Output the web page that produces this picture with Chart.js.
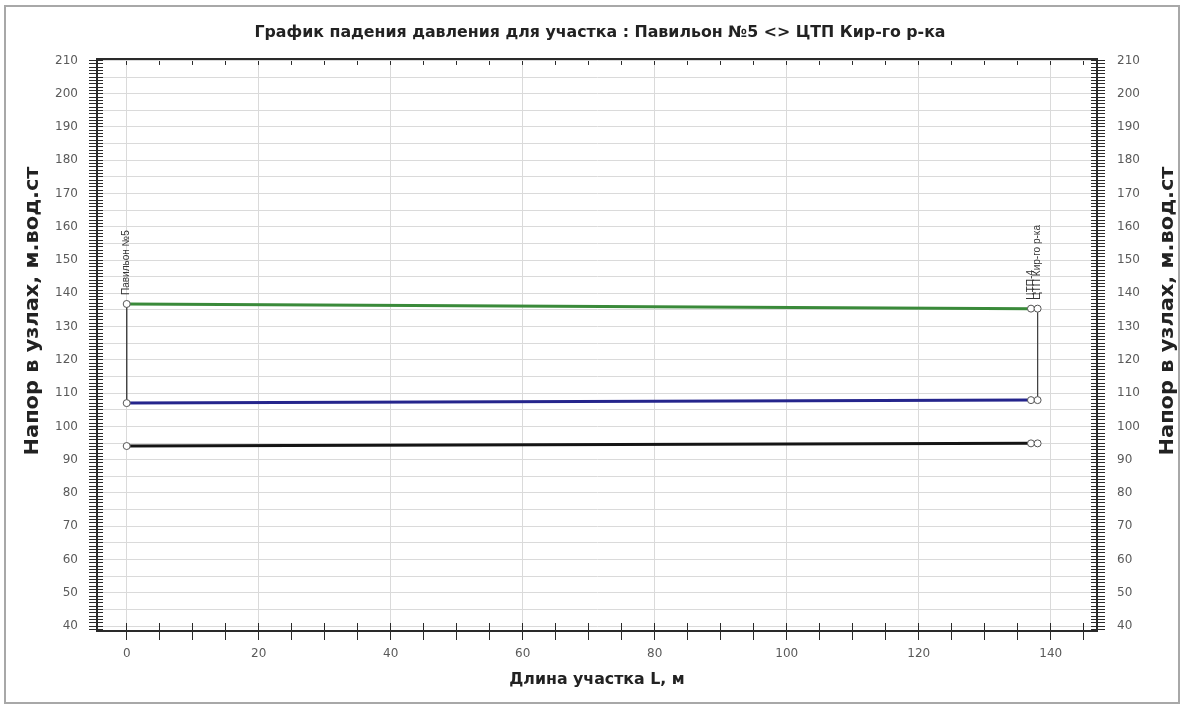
<!DOCTYPE html>
<html lang="ru">
<head>
<meta charset="utf-8">
<title>График падения давления</title>
<script src="https://cdn.jsdelivr.net/npm/chart.js@4.4.1/dist/chart.umd.min.js"></script>
<style>
  html, body { margin: 0; padding: 0; background: #fff; }
  #wrap { position: relative; width: 1184px; height: 709px; overflow: hidden; }
  #frame { position: absolute; left: 4px; top: 5px; width: 1172px; height: 695px;
           border: 2px solid #a8a8a8; pointer-events: none; }
  canvas { position: absolute; left: 0; top: 0; }
  .ytitle { position: absolute; top: 311px; white-space: nowrap;
            font: bold 19px "DejaVu Sans", Verdana, sans-serif; color: #222;
            transform: translate(-50%, -50%) rotate(-90deg) scaleX(1.1); }
</style>
</head>
<body>
<div id="wrap">
  <canvas id="chart" width="1184" height="709"></canvas>
  <div id="frame"></div>
  <div class="ytitle" style="left:31px">Напор в узлах, м.вод.ст</div>
  <div class="ytitle" style="left:1166px">Напор в узлах, м.вод.ст</div>
</div>
<script>
// Узлы участка: расстояние от начала, м
const nodeX = [0, 137, 138];
const nodeNames = ['Павильон №5', 'ЦТП-4', 'ЦТП Кир-го р-ка'];

// Напоры в узлах, м.вод.ст
const supplyHead = [136.8, 135.4, 135.4];   // подающий трубопровод
const returnHead = [107.0, 107.9, 107.9];   // обратный трубопровод
const groundHead = [94.1, 94.9, 94.9];      // отметка земли

// Подписи осей
const xTickLabels = [0, 20, 40, 60, 80, 100, 120, 140];
const yTickLabels = [40, 50, 60, 70, 80, 90, 100, 110, 120, 130, 140, 150, 160, 170, 180, 190, 200, 210];

const X_MIN = -4.5, X_MAX = 147;
const Y_MIN = 38.5, Y_MAX = 210.45;

const xMinorTicks = [];
for (let v = 0; v <= 145; v += 5) xMinorTicks.push(v);
const yMinorTicks = [];
for (let v = 39; v <= 210; v += 1) yMinorTicks.push(v);

const FONT = '"DejaVu Sans", Verdana, sans-serif';
const LABEL_FONT = '"Liberation Sans", Arial, sans-serif';
const AXIS = '#2a2a2a';
const GRID = '#dadada';
const TICK_TEXT = '#5a5a5a';

const pts = (xs, ys) => xs.map((x, i) => ({ x, y: ys[i] }));
const setX = s => { s.ticks = xMinorTicks.map(v => ({ value: v })); };
const setY = s => { s.ticks = yMinorTicks.map(v => ({ value: v })); };

const nodeStyle = {
  pointRadius: 3.5,
  pointHoverRadius: 3.5,
  pointBorderWidth: 1,
  pointBorderColor: '#555',
  pointBackgroundColor: '#fff',
  borderWidth: 3,
  tension: 0,
  fill: false
};

// Засечки внутри поля графика у кромки оси
const innerTicks = (axis, min, max, where, len, build) => ({
  type: 'linear', axis, min, max, position: where,
  afterBuildTicks: build,
  ticks: { display: false },
  grid: { drawOnChartArea: false, tickColor: AXIS, tickLength: len },
  border: { display: false }
});

// Подписи узлов, вертикально над узлом подающей линии
const nodeLabels = {
  id: 'nodeLabels',
  afterDatasetsDraw(chart) {
    const { ctx, scales: { x, y } } = chart;
    ctx.save();
    ctx.font = '10px ' + LABEL_FONT;
    ctx.fillStyle = '#333';
    ctx.textAlign = 'left';
    ctx.textBaseline = 'middle';
    nodeNames.forEach((name, i) => {
      const px = x.getPixelForValue(nodeX[i]);
      const py = y.getPixelForValue(supplyHead[i]) - 9;
      ctx.save();
      ctx.translate(px, py);
      ctx.rotate(-Math.PI / 2);
      ctx.fillText(name, 0, 0);
      ctx.restore();
    });
    ctx.restore();
  }
};

new Chart(document.getElementById('chart'), {
  type: 'line',
  data: {
    datasets: [
      Object.assign({ label: 'Подающий', data: pts(nodeX, supplyHead), borderColor: '#3a8a3a', order: 1 }, nodeStyle),
      Object.assign({ label: 'Обратный', data: pts(nodeX, returnHead), borderColor: '#25258c', order: 1 }, nodeStyle),
      Object.assign({ label: 'Земля', data: pts(nodeX, groundHead), borderColor: '#151515', order: 1 }, nodeStyle),
      { label: 'Начало', data: [{ x: nodeX[0], y: supplyHead[0] }, { x: nodeX[0], y: returnHead[0] }],
        borderColor: '#444', borderWidth: 1, pointRadius: 0, order: 2 },
      { label: 'Конец', data: [{ x: nodeX[2], y: supplyHead[2] }, { x: nodeX[2], y: returnHead[2] }],
        borderColor: '#444', borderWidth: 1, pointRadius: 0, order: 2 }
    ]
  },
  options: {
    responsive: false,
    animation: false,
    devicePixelRatio: 1,
    layout: { padding: { left: 16, right: 0, top: 0, bottom: 0 } },
    plugins: {
      legend: { display: false },
      tooltip: { enabled: false },
      title: {
        display: true,
        text: 'График падения давления для участка : Павильон №5 <> ЦТП Кир-го р-ка',
        color: '#222',
        font: { family: FONT, size: 15.8, weight: 'bold' },
        padding: { top: 23, bottom: 4 }
      }
    },
    scales: {
      x: {
        type: 'linear', position: 'bottom', min: X_MIN, max: X_MAX,
        afterBuildTicks: setX,
        afterFit: s => { s.height = 78; },
        ticks: {
          autoSkip: false, maxRotation: 0, padding: 7, color: TICK_TEXT,
          font: { family: FONT, size: 12 },
          callback: v => xTickLabels.includes(v) ? String(v) : ''
        },
        grid: {
          color: c => (c.tick && xTickLabels.includes(c.tick.value)) ? GRID : 'rgba(0,0,0,0)',
          tickColor: AXIS, tickLength: 9
        },
        border: { color: AXIS, width: 2 },
        title: {
          display: true, text: 'Длина участка L, м', color: '#222',
          font: { family: FONT, size: 15.8, weight: 'bold' },
          padding: { top: 0, bottom: 20 }
        }
      },
      x2: {
        type: 'linear', position: 'top', min: X_MIN, max: X_MAX,
        afterBuildTicks: setX,
        afterFit: s => { s.height = 13; },
        ticks: { display: false },
        grid: { drawOnChartArea: false, tickColor: AXIS, tickLength: -6 },
        border: { color: AXIS, width: 2 }
      },
      y: {
        type: 'linear', position: 'left', min: Y_MIN, max: Y_MAX,
        afterBuildTicks: setY,
        afterFit: s => { s.width = 81; },
        ticks: {
          autoSkip: false, padding: 11, color: TICK_TEXT,
          font: { family: FONT, size: 12 },
          callback: v => yTickLabels.includes(v) ? String(v) : ''
        },
        grid: {
          color: c => (c.tick && c.tick.value % 5 === 0) ? GRID : 'rgba(0,0,0,0)',
          tickColor: AXIS, tickLength: 8
        },
        border: { color: AXIS, width: 2 }
      },
      y2: {
        type: 'linear', position: 'right', min: Y_MIN, max: Y_MAX,
        afterBuildTicks: setY,
        afterFit: s => { s.width = 87; },
        ticks: {
          autoSkip: false, padding: 12, color: TICK_TEXT,
          font: { family: FONT, size: 12 },
          callback: v => yTickLabels.includes(v) ? String(v) : ''
        },
        grid: { drawOnChartArea: false, tickColor: AXIS, tickLength: 8 },
        border: { color: AXIS, width: 2 }
      },
      yInL: innerTicks('y', Y_MIN, Y_MAX, { x: X_MIN }, -6, setY),
      yInR: innerTicks('y', Y_MIN, Y_MAX, { x: X_MAX }, 6, setY),
      xInB: innerTicks('x', X_MIN, X_MAX, { y: Y_MIN }, -8, setX)
    }
  },
  plugins: [nodeLabels]
});
</script>
</body>
</html>
